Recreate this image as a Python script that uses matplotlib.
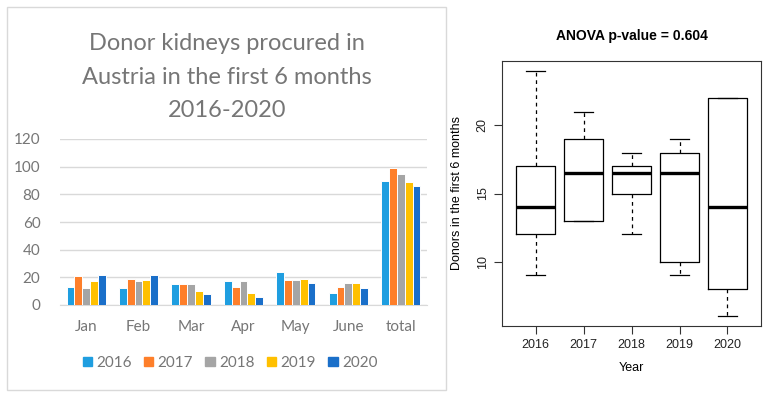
import matplotlib.pyplot as plt
from matplotlib.patches import Rectangle, Patch

months = ['Jan', 'Feb', 'Mar', 'Apr', 'May', 'June', 'total']
years = ['2016', '2017', '2018', '2019', '2020']
kidneys = {
    '2016': [13, 12, 15, 17, 24, 9, 90],
    '2017': [21, 19, 15, 13, 18, 13, 99],
    '2018': [12, 17, 15, 17, 18, 16, 95],
    '2019': [17, 18, 10, 9, 19, 16, 89],
    '2020': [22, 22, 8, 6, 16, 12, 86],
}
colors = ['#1f9ee0', '#fe7f2a', '#a5a5a5', '#ffc000', '#1a6fc9']

# boxplot stats (donors in first 6 months)
box_lo = [9, 13, 12, 9, 6]
box_q1 = [12, 13, 15, 10, 8]
box_med = [14, 16.5, 16.5, 16.5, 14]
box_q3 = [17, 19, 17, 18, 22]
box_hi = [24, 21, 18, 19, 22]

fig = plt.figure(figsize=(7.68, 4), dpi=100)

# left panel frame
fig.patches.append(Rectangle((0.009, 0.025), 0.572, 0.9575, transform=fig.transFigure,
                             fill=False, edgecolor='#d9d9d9', linewidth=1))

gray = '#767676'
ax = fig.add_axes([0.078, 0.2375, 0.478, 0.415])
n = len(years)
gw = 0.745
w = gw / n
for i, y in enumerate(years):
    xs = [k - gw / 2 + w * (i + 0.5) for k in range(len(months))]
    ax.bar(xs, kidneys[y], width=w, color=colors[i], edgecolor='white', linewidth=0.7, zorder=3)
ax.set_xlim(-0.5, len(months) - 0.5)
ax.set_ylim(0, 120)
ax.set_yticks(range(0, 121, 20))
ax.set_xticks(range(len(months)))
ax.set_xticklabels(months)
ax.grid(axis='y', color='#d9d9d9', linewidth=1, zorder=0)
for s in ['top', 'right', 'left']:
    ax.spines[s].set_visible(False)
ax.spines['bottom'].set_color('#d9d9d9')
ax.tick_params(length=0, labelsize=11, labelcolor=gray)
ax.tick_params(axis='x', pad=11)
ax.tick_params(axis='y', pad=14)
for t in ax.get_xticklabels() + ax.get_yticklabels():
    t.set_family('Lato')
fig.text(0.2956, 0.8075, 'Donor kidneys procured in\nAustria in the first 6 months\n2016-2020',
         family='Lato', fontsize=17, color=gray, ha='center', va='center',
         linespacing=1.72, multialignment='center')
handles = [Patch(color=c, label=y) for c, y in zip(colors, years)]
fig.legend(handles=handles, loc='center', bbox_to_anchor=(0.2996, 0.0925), ncol=5,
           frameon=False, handlelength=0.6, handleheight=0.6, handletextpad=0.3,
           columnspacing=0.8, prop={'family': 'Lato', 'size': 11}, labelcolor=gray)

# right panel: R style boxplot
bx = fig.add_axes([0.6536, 0.185, 0.3374, 0.6625])
stats = []
for i, y in enumerate(years):
    stats.append({'label': y, 'whislo': box_lo[i], 'q1': box_q1[i], 'med': box_med[i],
                  'q3': box_q3[i], 'whishi': box_hi[i], 'fliers': []})
bx.bxp(stats, positions=range(1, n + 1), widths=0.8, showfliers=False,
       boxprops=dict(color='black', linewidth=0.9),
       medianprops=dict(color='black', linewidth=2.4, solid_capstyle='butt'),
       whiskerprops=dict(color='black', linewidth=0.9, linestyle=(0, (3, 3))),
       capprops=dict(color='black', linewidth=0.9), capwidths=0.4)
bx.set_xlim(0.3, 5.7)
bx.set_ylim(5.28, 24.72)
bx.set_yticks([10, 15, 20])
bx.tick_params(direction='out', length=6, labelsize=9, color='#333333', labelcolor='#222222')
for t in bx.get_yticklabels():
    t.set_rotation(90)
    t.set_va('center')
for t in bx.get_xticklabels() + bx.get_yticklabels():
    t.set_family('Liberation Sans')
for s in bx.spines.values():
    s.set_color('#333333')
bx.set_xlabel('Year', family='Liberation Sans', fontsize=9, labelpad=8)
bx.set_ylabel('Donors in the first 6 months', family='Liberation Sans', fontsize=9, labelpad=10)
bx.set_title('ANOVA p-value = 0.604', family='Liberation Sans', fontsize=10,
             fontweight='bold', pad=15)

fig.savefig('out.png', dpi=100)
